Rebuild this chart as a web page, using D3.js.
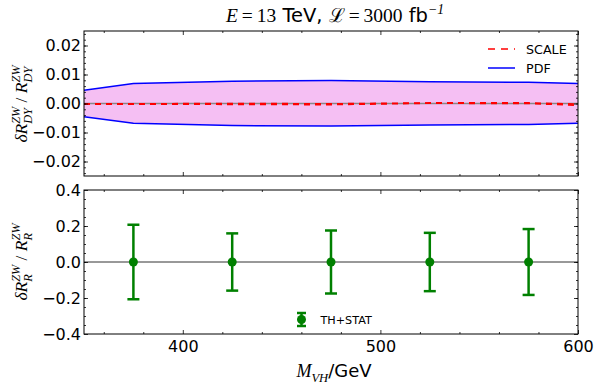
<!DOCTYPE html>
<html>
<head>
<meta charset="utf-8">
<script src="https://cdn.jsdelivr.net/npm/d3@7"></script>
<style>
  body { margin: 0; background: #fff; }
  svg text { font-family: "DejaVu Sans", sans-serif; }
</style>
</head>
<body>
<div id="chart"></div>
<script>
// Mass points for the ratio band (edges + bin centres)
var massPts = [350, 375, 425, 475, 525, 575, 600];
var pdfUp = [0.0046, 0.0069, 0.0077, 0.0079, 0.0075, 0.0073, 0.0069];
var pdfDn = [-0.0046, -0.0068, -0.0076, -0.0078, -0.0074, -0.0072, -0.0068];
var scaleUp = [-0.0001, -0.0001, 0.0000, -0.0001, 0.0002, 0.0002, -0.0002];
var scaleDn = [-0.0002, -0.0002, -0.0003, -0.0004, 0.0001, 0.0000, -0.0006];

// Bottom panel: TH+STAT error bars
var binCentres = [375, 425, 475, 525, 575];
var binValues = [0, 0, 0, 0, 0];
var binErrs = [0.207, 0.159, 0.175, 0.162, 0.183];

var topTicks = [-0.02, -0.01, 0.00, 0.01, 0.02];
var botTicks = [-0.4, -0.2, 0.0, 0.2, 0.4];
var xTicks = [400, 500, 600];

var W = 601, H = 388;
var left = 84, right = 578;
var topPanel = {y0: 31, y1: 176};
var botPanel = {y0: 190, y1: 334};

var svg = d3.select("#chart")
  .append("svg")
  .attr("width", W)
  .attr("height", H);

var x = d3.scaleLinear().domain([350, 600]).range([left, right]);
var yTop = d3.scaleLinear().domain([-0.025, 0.025]).range([topPanel.y1, topPanel.y0]);
var yBot = d3.scaleLinear().domain([-0.4, 0.4]).range([botPanel.y1, botPanel.y0]);

var xMinor = d3.range(360, 601, 20).filter(function(v) { return v % 100 !== 0; });

// draws inward ticks on all four sides of a panel
function frame(yScale, panel, majors, minors, fmt, showX) {
  var g = svg.append("g");
  var tickFont = "16px";

  g.append("g").attr("transform", "translate(" + left + ",0)")
    .call(d3.axisLeft(yScale).tickValues(majors).tickSize(-4).tickPadding(3).tickFormat(fmt))
    .call(style, tickFont);
  g.append("g").attr("transform", "translate(" + left + ",0)")
    .call(d3.axisLeft(yScale).tickValues(minors).tickSize(-2).tickFormat(""))
    .call(style);
  g.append("g").attr("transform", "translate(" + right + ",0)")
    .call(d3.axisRight(yScale).tickValues(majors).tickSize(-4).tickFormat(""))
    .call(style);
  g.append("g").attr("transform", "translate(" + right + ",0)")
    .call(d3.axisRight(yScale).tickValues(minors).tickSize(-2).tickFormat(""))
    .call(style);

  g.append("g").attr("transform", "translate(0," + panel.y1 + ")")
    .call(d3.axisBottom(x).tickValues(xTicks).tickSize(-4).tickPadding(7)
      .tickFormat(showX ? d3.format("d") : ""))
    .call(style, tickFont);
  g.append("g").attr("transform", "translate(0," + panel.y1 + ")")
    .call(d3.axisBottom(x).tickValues(xMinor).tickSize(-2).tickFormat(""))
    .call(style);
  g.append("g").attr("transform", "translate(0," + panel.y0 + ")")
    .call(d3.axisTop(x).tickValues(xTicks).tickSize(-4).tickFormat(""))
    .call(style);
  g.append("g").attr("transform", "translate(0," + panel.y0 + ")")
    .call(d3.axisTop(x).tickValues(xMinor).tickSize(-2).tickFormat(""))
    .call(style);

  g.append("rect")
    .attr("x", left).attr("y", panel.y0)
    .attr("width", right - left).attr("height", panel.y1 - panel.y0)
    .attr("fill", "none").attr("stroke", "#000").attr("stroke-width", 1);
}

function style(sel, size) {
  sel.select(".domain").remove();
  sel.selectAll(".tick line").attr("stroke", "#000").attr("stroke-width", 0.8);
  sel.selectAll(".tick text")
    .attr("fill", "#000")
    .style("font-family", "DejaVu Sans, sans-serif")
    .style("font-size", size || "10px");
}

// ---- top panel ----
var band = d3.area()
  .x(function(d, i) { return x(massPts[i]); })
  .y0(function(d, i) { return yTop(pdfDn[i]); })
  .y1(function(d, i) { return yTop(pdfUp[i]); });

svg.append("path")
  .datum(massPts)
  .attr("d", band)
  .attr("fill", "#f5bff3");

var lineTop = function(vals) {
  return d3.line()
    .x(function(d, i) { return x(massPts[i]); })
    .y(function(d, i) { return yTop(vals[i]); })(massPts);
};

svg.append("line")
  .attr("x1", left).attr("x2", right)
  .attr("y1", yTop(0)).attr("y2", yTop(0))
  .attr("stroke", "#888").attr("stroke-width", 1.5);

[pdfUp, pdfDn].forEach(function(v) {
  svg.append("path").attr("d", lineTop(v))
    .attr("fill", "none").attr("stroke", "#0000ff").attr("stroke-width", 1.5);
});
[scaleUp, scaleDn].forEach(function(v) {
  svg.append("path").attr("d", lineTop(v))
    .attr("fill", "none").attr("stroke", "#ff0000").attr("stroke-width", 1.6)
    .attr("stroke-dasharray", "6,5");
});

frame(yTop, topPanel, topTicks, d3.range(-0.024, 0.0241, 0.002), d3.format(".2f"), false);

// top legend
var leg = svg.append("g");
leg.append("line").attr("x1", 488).attr("x2", 515).attr("y1", 49).attr("y2", 49)
  .attr("stroke", "#ff0000").attr("stroke-width", 1.5).attr("stroke-dasharray", "7,6");
leg.append("text").attr("x", 526).attr("y", 53.5).text("SCALE")
  .style("font-size", "12.7px");
leg.append("line").attr("x1", 488).attr("x2", 515).attr("y1", 68).attr("y2", 68)
  .attr("stroke", "#0000ff").attr("stroke-width", 1.5);
leg.append("text").attr("x", 526).attr("y", 72.5).text("PDF")
  .style("font-size", "12.7px");

// ---- bottom panel ----
svg.append("line")
  .attr("x1", left).attr("x2", right)
  .attr("y1", yBot(0)).attr("y2", yBot(0))
  .attr("stroke", "#333").attr("stroke-width", 1);

var green = "#008000";
var bars = svg.append("g").selectAll("g")
  .data(binCentres)
  .enter().append("g");

bars.append("line")
  .attr("x1", function(d) { return x(d); }).attr("x2", function(d) { return x(d); })
  .attr("y1", function(d, i) { return yBot(binValues[i] - binErrs[i]); })
  .attr("y2", function(d, i) { return yBot(binValues[i] + binErrs[i]); })
  .attr("stroke", green).attr("stroke-width", 2.5);
bars.append("line")
  .attr("x1", function(d) { return x(d) - 6; }).attr("x2", function(d) { return x(d) + 6; })
  .attr("y1", function(d, i) { return yBot(binValues[i] + binErrs[i]); })
  .attr("y2", function(d, i) { return yBot(binValues[i] + binErrs[i]); })
  .attr("stroke", green).attr("stroke-width", 2.5);
bars.append("line")
  .attr("x1", function(d) { return x(d) - 6; }).attr("x2", function(d) { return x(d) + 6; })
  .attr("y1", function(d, i) { return yBot(binValues[i] - binErrs[i]); })
  .attr("y2", function(d, i) { return yBot(binValues[i] - binErrs[i]); })
  .attr("stroke", green).attr("stroke-width", 2.5);
bars.append("circle")
  .attr("cx", function(d) { return x(d); })
  .attr("cy", function(d, i) { return yBot(binValues[i]); })
  .attr("r", 4.5)
  .attr("fill", green);

frame(yBot, botPanel, botTicks, d3.range(-0.35, 0.36, 0.05), d3.format(".1f"), true);

// bottom legend
var leg2 = svg.append("g");
leg2.append("line").attr("x1", 301.5).attr("x2", 301.5).attr("y1", 313).attr("y2", 326)
  .attr("stroke", green).attr("stroke-width", 2.5);
leg2.append("line").attr("x1", 297).attr("x2", 306).attr("y1", 313).attr("y2", 313)
  .attr("stroke", green).attr("stroke-width", 2.5);
leg2.append("line").attr("x1", 297).attr("x2", 306).attr("y1", 326).attr("y2", 326)
  .attr("stroke", green).attr("stroke-width", 2.5);
leg2.append("circle").attr("cx", 301.5).attr("cy", 319.5).attr("r", 4.5).attr("fill", green);
leg2.append("text").attr("x", 320.5).attr("y", 323.5).text("TH+STAT")
  .style("font-size", "11.2px");

// ---- math-like labels built from pieces ----
var serif = "Liberation Serif, DejaVu Serif, serif";
function mathText(g, parts, size) {
  var cx = 0;
  parts.forEach(function(p) {
    if (p.sub !== undefined || p.sup !== undefined) {
      var w = 0;
      if (p.sub) {
        var s = g.append("text").attr("x", cx).attr("y", size * 0.28).text(p.sub)
          .style("font-family", serif).style("font-style", "italic")
          .style("font-size", (size * 0.7) + "px");
        w = Math.max(w, s.node().getComputedTextLength());
      }
      if (p.sup) {
        var t = g.append("text").attr("x", cx).attr("y", -size * 0.42).text(p.sup)
          .style("font-family", serif).style("font-style", "italic")
          .style("font-size", (size * 0.7) + "px");
        w = Math.max(w, t.node().getComputedTextLength());
      }
      cx += w;
    } else {
      var e = g.append("text").attr("x", cx).attr("y", 0).text(p.t)
        .style("font-family", p.sans ? "DejaVu Sans, sans-serif" : serif)
        .style("font-style", p.it ? "italic" : "normal")
        .style("font-size", size + "px")
        .attr("xml:space", "preserve");
      cx += e.node().getComputedTextLength();
    }
  });
  // centre horizontally on the group origin
  g.selectAll("text").attr("x", function() { return +d3.select(this).attr("x") - cx / 2; });
}

// title
var title = svg.append("g").attr("transform", "translate(335,22)");
mathText(title, [
  {t: "E", it: true}, {t: "\u2009=\u200913"}, {t: " TeV, ", sans: true},
  {t: "\u2112", it: false}, {t: "\u2009=\u20093000"}, {t: " fb", sans: true},
  {sup: "\u22121"}
], 19.5);

// y labels
var yl1 = svg.append("g").attr("transform", "translate(27,104) rotate(-90)");
mathText(yl1, [
  {t: "\u03b4R", it: true}, {sub: "DY", sup: "ZW"}, {t: " / "},
  {t: "R", it: true}, {sub: "DY", sup: "ZW"}
], 17.5);

var yl2 = svg.append("g").attr("transform", "translate(27,262) rotate(-90)");
mathText(yl2, [
  {t: "\u03b4R", it: true}, {sub: "R", sup: "ZW"}, {t: " / "},
  {t: "R", it: true}, {sub: "R", sup: "ZW"}
], 17.5);

// x label
var xl = svg.append("g").attr("transform", "translate(334,377)");
mathText(xl, [
  {t: "M", it: true}, {sub: "VH"}, {t: "/GeV", sans: true}
], 18);
</script>
</body>
</html>
